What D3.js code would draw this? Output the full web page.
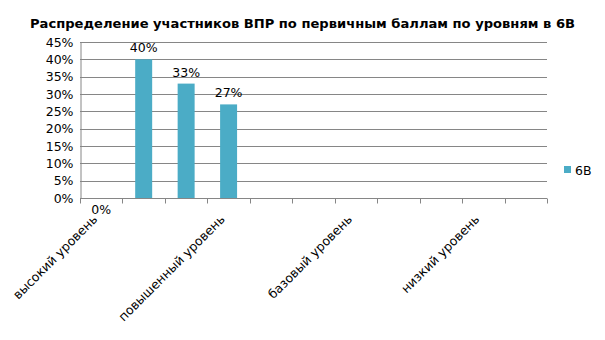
<!DOCTYPE html>
<html><head><meta charset="utf-8">
<script src="https://cdn.jsdelivr.net/npm/d3@7"></script>
<style>body{margin:0;background:#fff;} text{font-family:"DejaVu Sans",sans-serif;}</style>
</head><body><svg id="c" width="605" height="340"></svg>
<script>
const title = "Распределение участников ВПР по первичным баллам по уровням в 6В";
const categories = ["высокий уровень","","","повышенный уровень","","","базовый уровень","","","низкий уровень",""];
const values = [0, 40, 33, 27, null, null, null, null, null, null, null];
const yTicks = [0,5,10,15,20,25,30,35,40,45];
const seriesName = "6В";
const color = "#4BACC6";

const svg = d3.select("#c");
svg.append("rect").attr("width",605).attr("height",340).attr("fill","#fff");
const pL=80, pR=547, pT=42, pB=198;
const x = d3.scaleBand().domain(d3.range(categories.length)).range([pL,pR]).paddingInner(0).paddingOuter(0);
const y = d3.scaleLinear().domain([0,45]).range([pB,pT]);

svg.append("text").attr("x",302.5).attr("y",28).attr("text-anchor","middle")
  .attr("font-weight","bold").attr("font-size",13.1).attr("fill","#000").text(title);

// gridlines
svg.append("g").selectAll("line").data(yTicks).join("line")
  .attr("x1",pL).attr("x2",pR).attr("y1",d=>Math.round(y(d))+0.5).attr("y2",d=>Math.round(y(d))+0.5)
  .attr("stroke","#868686").attr("stroke-width",1);

// y axis
const ya = svg.append("g").attr("transform",`translate(${pL+0.5},0)`)
  .call(d3.axisLeft(y).tickValues(yTicks).tickFormat(d=>d+"%").tickSize(0).tickPadding(7));
ya.select(".domain").attr("stroke","#868686");
ya.selectAll("text").attr("font-size",12.5).attr("fill","#000").attr("font-family","DejaVu Sans");

// x axis ticks
const xa = svg.append("g").attr("transform",`translate(0,${Math.round(y(0))+0.5})`);
const bounds = d3.range(categories.length+1).map(i=> i<categories.length ? x(i) : x(categories.length-1)+x.bandwidth());
xa.selectAll("line.t").data(bounds).join("line").attr("class","t")
  .attr("x1",d=>Math.round(d)+0.5).attr("x2",d=>Math.round(d)+0.5).attr("y1",0).attr("y2",5).attr("stroke","#868686");

// category labels
svg.append("g").selectAll("text").data(categories.map((c,i)=>({c,i})).filter(d=>d.c)).join("text")
  .attr("transform",d=>`translate(${x(d.i)+x.bandwidth()/2-3},${pB+22}) rotate(-45)`)
  .attr("text-anchor","end").attr("font-size",12.5).attr("fill","#000").text(d=>d.c);

// bars
const bw = x.bandwidth()*0.4;
const data = values.map((v,i)=>({v,i})).filter(d=>d.v!==null);
svg.append("g").selectAll("rect").data(data).join("rect")
  .attr("x",d=>x(d.i)+x.bandwidth()/2-bw/2).attr("width",bw)
  .attr("y",d=>y(d.v)).attr("height",d=>y(0)-y(d.v)).attr("fill",color);

// data labels
svg.append("g").selectAll("text").data(data).join("text")
  .attr("x",d=>x(d.i)+x.bandwidth()/2)
  .attr("y",d=>d.v===0 ? y(0)+16 : y(d.v)-7)
  .attr("text-anchor","middle").attr("font-size",12.5).attr("fill","#000").text(d=>d.v+"%");

// legend
const lg = svg.append("g").attr("transform","translate(564,166)");
lg.append("rect").attr("width",7).attr("height",7).attr("fill",color);
lg.append("text").attr("x",11).attr("y",9).attr("font-size",12.5).attr("fill","#000").text(seriesName);
</script></body></html>
